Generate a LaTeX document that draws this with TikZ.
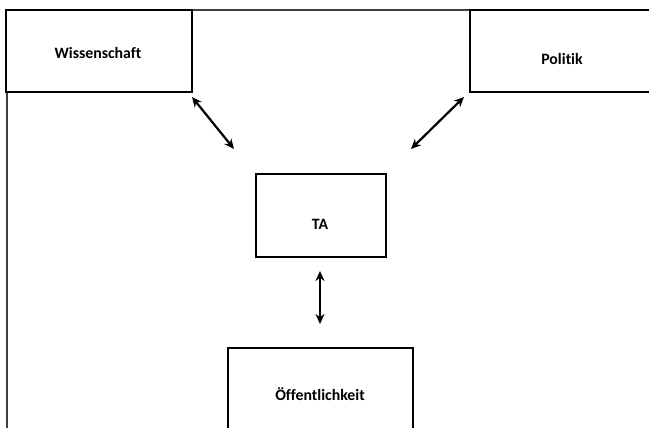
\documentclass[tikz,border=0pt]{standalone}
\usepackage{fontspec}
\setmainfont{Carlito}[Ligatures=NoCommon]
\usetikzlibrary{arrows.meta}
\tikzset{
  box/.style={draw=black, line width=2.2pt, fill=white, inner sep=0pt},
  lbl/.style={font=\fontsize{15.8}{18}\selectfont\bfseries, inner sep=0pt},
  link/.style={line width=2.2pt, {Stealth[length=10pt,width=9pt]}-{Stealth[length=10pt,width=9pt]}},
  frame/.style={draw=black!75, line width=1.3pt}
}
\begin{document}
\begin{tikzpicture}[x=1pt,y=-1pt]
\useasboundingbox (0,0) rectangle (649,428);
\clip (0,0) rectangle (649,428);
\fill[white] (0,0) rectangle (649,428);
% frame
\coordinate (fbl) at (7,440);
\coordinate (ftl) at (7,10);
\coordinate (ftr) at (660,10);
\draw[frame] (fbl) -- (ftl) -- (ftr);
% boxes
\node[box, minimum width=186pt, minimum height=82pt] (wis) at (99,51) {};
\node[box, minimum width=186pt, minimum height=82pt] (pol) at (563,51) {};
\node[box, minimum width=130pt, minimum height=83pt] (ta) at (321,215.5) {};
\node[box, minimum width=185pt, minimum height=83pt] (oef) at (320.5,389.5) {};
% labels
\node[lbl] (wist) at (98,53) {Wissenschaft};
\node[lbl] (polt) at (562,59) {Politik};
\node[lbl] (tat) at (320,224) {TA};
\node[lbl] (oeft) at (320,394) {Öffentlichkeit};
% arrow ends
\coordinate (a1) at (192,97);
\coordinate (a2) at (234,149);
\coordinate (b1) at (464,97);
\coordinate (b2) at (411,149);
\coordinate (c1) at (320,271);
\coordinate (c2) at (320,324);
\draw[link] (a1) -- (a2);
\draw[link] (b1) -- (b2);
\draw[link] (c1) -- (c2);
\end{tikzpicture}
\end{document}
